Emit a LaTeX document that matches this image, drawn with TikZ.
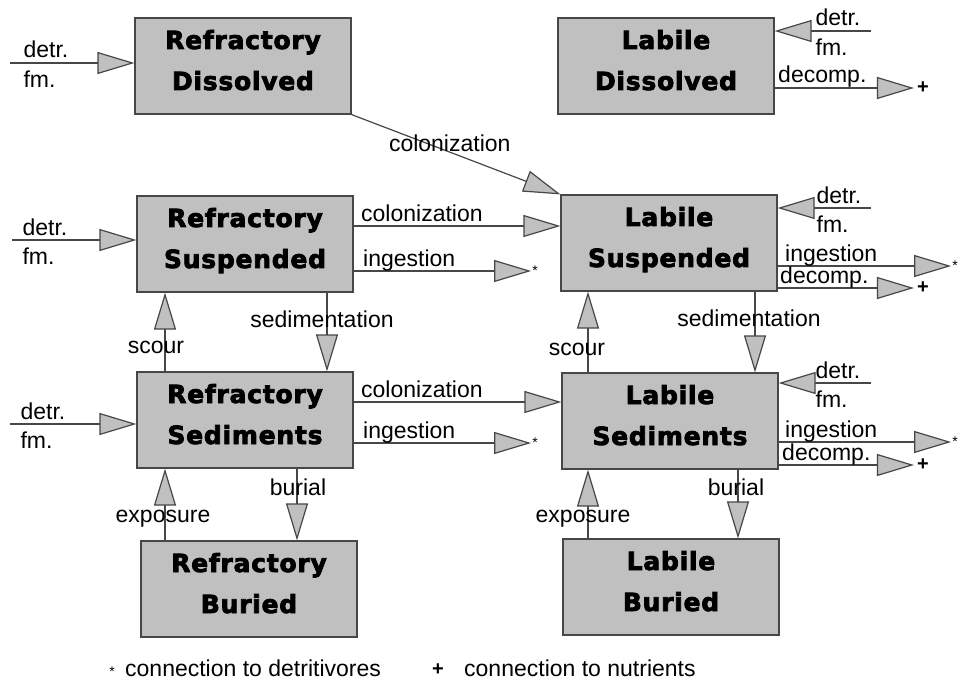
\documentclass[tikz,border=0pt]{standalone}
\usepackage{fontspec}
\setmainfont{Liberation Sans}
\newfontfamily\boxfont[LetterSpace=3,FakeBold=3]{DejaVu Sans}
\usetikzlibrary{arrows.meta,positioning}
\definecolor{boxgray}{HTML}{C0C0C0}
\definecolor{linegray}{HTML}{474747}
\newcommand\poolstrut{\rule[-12pt]{0pt}{12pt}}
\tikzset{
  box/.style={rectangle, draw=linegray, line width=1.2pt, fill=boxgray, minimum width=216pt, minimum height=96pt,
    align=center, execute at end node={\poolstrut}, font=\boxfont\bfseries\fontsize{25}{41}\selectfont},
  flow/.style={draw=linegray, line width=1.2pt, -{Triangle[length=37pt,width=22pt,fill=boxgray]}},
  lab/.style={font=\fontsize{23}{23}\selectfont, inner sep=0pt},
  toplab/.style={lab, pos=0, anchor=base west, yshift=5pt},
  botlab/.style={lab, pos=0, anchor=north west, yshift=-7pt},
  detr/.style={font=\fontsize{14}{14}\selectfont, inner sep=1pt},
  nutr/.style={font=\bfseries\fontsize{20}{20}\selectfont, inner sep=3pt},
}
\begin{document}
\begin{tikzpicture}[x=1pt, y=-1pt]
\useasboundingbox[fill=white] (0,0) rectangle (960,682);

% pools
\node[box] (rdis) at (243,66) {Refractory\\Dissolved};
\node[box] (ldis) at (666,66) {Labile\\Dissolved};
\node[box] (rsus) at (245,244) {Refractory\\Suspended};
\node[box] (lsus) at (669,243) {Labile\\Suspended};
\node[box] (rsed) at (245,420) {Refractory\\Sediments};
\node[box] (lsed) at (670,421) {Labile\\Sediments};
\node[box] (rbur) at (249,589) {Refractory\\Buried};
\node[box] (lbur) at (671,587) {Labile\\Buried};

% free ends
\coordinate (rdisin) at (10,63);
\coordinate (rsusin) at (12,240);
\coordinate (rsedin) at (10,424);
\coordinate (ldisin) at (871,31);
\coordinate (lsusin) at (871,208);
\coordinate (lsedin) at (871,383);
\node[detr] (rsusstar) at (535,271) {*};
\node[detr] (rsedstar) at (535,443) {*};
\node[detr] (lsusstar) at (955,266) {*};
\node[detr] (lsedstar) at (955,442) {*};
\node[nutr] (ldisplus) at (923,88) {+};
\node[nutr] (lsusplus) at (923,288) {+};
\node[nutr] (lsedplus) at (923,465) {+};

% detrital formation
\draw[flow] (rdisin) -- (rdis.west |- rdisin) node[toplab,xshift=13pt]{detr.} node[botlab,xshift=13pt]{fm.};
\draw[flow] (rsusin) -- (rsus.west |- rsusin) node[toplab,xshift=10pt]{detr.} node[botlab,xshift=10pt]{fm.};
\draw[flow] (rsedin) -- (rsed.west |- rsedin) node[toplab,xshift=10pt]{detr.} node[botlab,xshift=10pt]{fm.};
\draw[flow] (ldisin) -- (ldis.east |- ldisin) node[toplab,xshift=-56pt]{detr.} node[botlab,xshift=-56pt]{fm.};
\draw[flow] (lsusin) -- (lsus.east |- lsusin) node[toplab,xshift=-55pt]{detr.} node[botlab,xshift=-55pt]{fm.};
\draw[flow] (lsedin) -- (lsed.east |- lsedin) node[toplab,xshift=-56pt]{detr.} node[botlab,xshift=-56pt]{fm.};

% colonization
\draw[flow] (rdis.south east) -- (lsus.north west) node[lab,pos=0.47,yshift=9pt]{colonization};
\draw[flow] (rsus.east |- 0,226) -- (lsus.west |- 0,226) node[toplab,xshift=7pt]{colonization};
\draw[flow] (rsed.east |- 0,402) -- (lsed.west |- 0,402) node[toplab,xshift=7pt]{colonization};

% ingestion and decomposition
\draw[flow] (rsus.east |- rsusstar) -- (rsusstar.west) node[toplab,xshift=9pt]{ingestion};
\draw[flow] (rsed.east |- rsedstar) -- (rsedstar.west) node[toplab,xshift=9pt]{ingestion};
\draw[flow] (lsus.east |- lsusstar) -- (lsusstar.west) node[toplab,xshift=7pt]{ingestion};
\draw[flow] (lsed.east |- lsedstar) -- (lsedstar.west) node[toplab,xshift=6pt]{ingestion};
\draw[flow] (ldis.east |- ldisplus) -- (ldisplus.west) node[toplab,xshift=3pt]{decomp.};
\draw[flow] (lsus.east |- lsusplus) -- (lsusplus.west) node[toplab,xshift=2pt]{decomp.};
\draw[flow] (lsed.east |- lsedplus) -- (lsedplus.west) node[toplab,xshift=3pt]{decomp.};

% vertical exchange
\draw[flow] (rsus.south -| 327,0) -- (rsed.north -| 327,0) node[lab,pos=0.34,xshift=-5pt]{sedimentation};
\draw[flow] (rsed.north -| 165,0) -- (rsus.south -| 165,0) node[lab,pos=0.30,xshift=-9pt]{scour};
\draw[flow] (lsus.south -| 755,0) -- (lsed.north -| 755,0) node[lab,pos=0.33,xshift=-6pt]{sedimentation};
\draw[flow] (lsed.north -| 588,0) -- (lsus.south -| 588,0) node[lab,pos=0.28,xshift=-11pt]{scour};
\draw[flow] (rsed.south -| 297,0) -- (rbur.north -| 297,0) node[lab,pos=0.26,xshift=1pt]{burial};
\draw[flow] (rbur.north -| 165,0) -- (rsed.south -| 165,0) node[lab,pos=0.30,xshift=-2pt]{exposure};
\draw[flow] (lsed.south -| 738,0) -- (lbur.north -| 738,0) node[lab,pos=0.26,xshift=-2pt]{burial};
\draw[flow] (lbur.north -| 588,0) -- (lsed.south -| 588,0) node[lab,pos=0.28,xshift=-5pt]{exposure};

% legend
\node[detr] (lgstar) at (112,672) {*};
\node[lab, anchor=west] (lgdet) at (125,668) {connection to detritivores};
\node[nutr] (lgplus) at (438,670) {+};
\node[lab, anchor=west] (lgnut) at (464,668) {connection to nutrients};
\end{tikzpicture}
\end{document}
